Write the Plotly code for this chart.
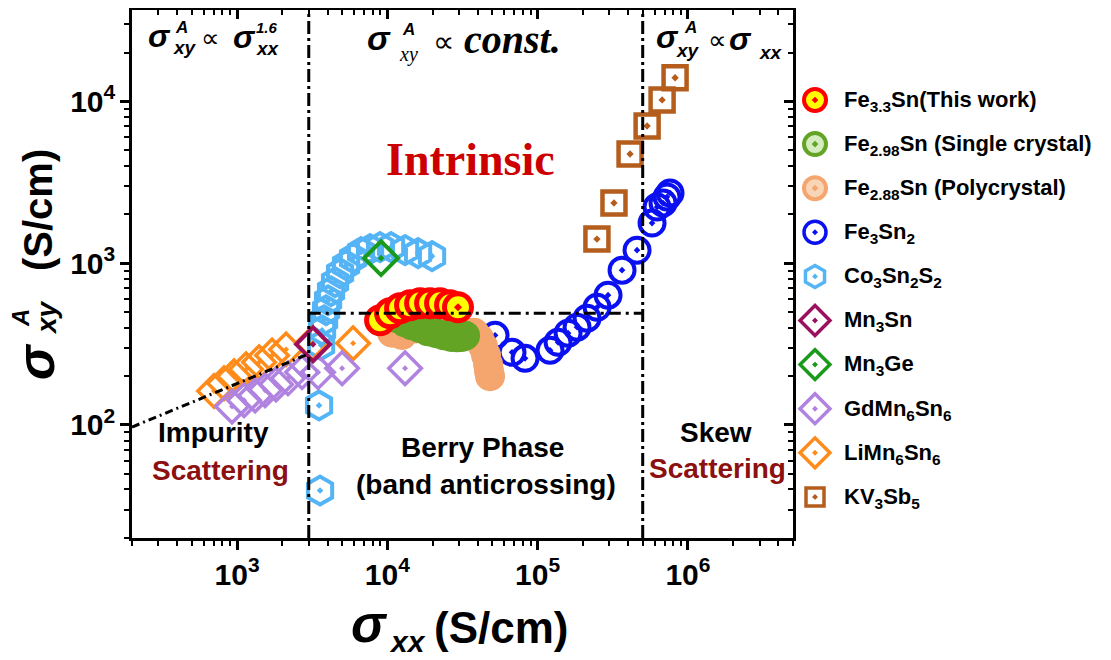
import math
import plotly.graph_objects as go

# ---------------- data (sigma_xx, sigma_xy^A in S/cm) ----------------
fe33sn_sxx = [8940, 10420, 12150, 14160, 16510, 19240, 22420, 26130, 29510]
fe33sn_sxy = [444, 490, 526, 550, 565, 565, 565, 550, 534]

fe298sn_sxx = [11780, 13120, 14600, 16510, 18660, 21090, 23840, 26530, 29090, 31400, 32890]
fe298sn_sxy = [456, 431, 413, 396, 379, 369, 358, 350, 348, 350, 356]

fe288sn_sxx = [10750, 12530, 15520, 19830, 25340, 30460, 34430, 37740, 40740, 43310, 45360, 46780, 47490, 48240]
fe288sn_sxy = [372, 360, 395, 378, 362, 358, 370, 372, 343, 306, 270, 237, 215, 200]

fe3sn2_sxx = [52080, 67530, 82450, 120900, 136700, 159400, 182900, 213200, 248500, 294000,
              364400, 458500, 577000, 622900, 682900, 725800, 760100]
fe3sn2_sxy = [358, 281, 258, 289, 324, 369, 402, 457, 534, 634,
              905, 1203, 1769, 2223, 2355, 2566, 2713]

co3sn2s2_sxx = [3566, 3513, 3623, 3678, 3792, 3910, 4031, 4221, 4487, 4845, 5312, 5913,
                6683, 7672, 8943, 10580, 13120, 16010, 19830]
co3sn2s2_sxy = [39.3, 132, 311, 385, 444, 512, 590, 671, 763, 867, 972, 1074,
                1170, 1221, 1256, 1256, 1204, 1153, 1105]

mn3sn_sxx = [3204]
mn3sn_sxy = [315]

mn3ge_sxx = [9078]
mn3ge_sxy = [1074]

gdmn6sn6_sxx = [926, 1113, 1318, 1536, 1817, 2183, 2705, 3457, 5000, 13120]
gdmn6sn6_sxy = [130, 142, 152, 164, 178, 194, 212, 212, 224, 224]

limn6sn6_sxx = [703, 819, 955, 1148, 1401, 1710, 2119, 3155, 5916]
limn6sn6_sxy = [162, 181, 200, 221, 244, 269, 293, 320, 320]

kv3sb5_sxx = [248000, 322000, 412000, 535000, 673000, 821000]
kv3sb5_sxy = [1409, 2355, 4731, 7047, 10210, 13990]

# guide lines
impurity_line_sxx = [200, 3000]
impurity_line_sxy = [97, 275]
boundary_low = 3000
boundary_high = 5e5
const_level = 490

x_range = [200, 5e6]
y_bottom = 20

legend_labels = [
    "Fe<sub>3.3</sub>Sn(This work)",
    "Fe<sub>2.98</sub>Sn (Single crystal)",
    "Fe<sub>2.88</sub>Sn (Polycrystal)",
    "Fe<sub>3</sub>Sn<sub>2</sub>",
    "Co<sub>3</sub>Sn<sub>2</sub>S<sub>2</sub>",
    "Mn<sub>3</sub>Sn",
    "Mn<sub>3</sub>Ge",
    "GdMn<sub>6</sub>Sn<sub>6</sub>",
    "LiMn<sub>6</sub>Sn<sub>6</sub>",
    "KV<sub>3</sub>Sb<sub>5</sub>",
]

# ---------------- layout geometry (page pixels; the page body adds an 8px offset) ----------------
OFF = 8
W, H = 1111 - OFF, 660 - OFF
PAGE_LEFT, PAGE_RIGHT, PAGE_TOP, PAGE_BOTTOM = 132, 793, 10, 538
ml = PAGE_LEFT - OFF
mt = PAGE_TOP - OFF
mb = H - (PAGE_BOTTOM - OFF)
mr = 0
PW = W - ml - mr
PH = H - mt - mb
xdom = [0, (PAGE_RIGHT - PAGE_LEFT) / PW]
PX_PER_DEC_Y = 161.77
ly = [math.log10(y_bottom), math.log10(y_bottom) + (PAGE_BOTTOM - PAGE_TOP) / PX_PER_DEC_Y]
lx = [math.log10(v) for v in x_range]
y_range = [10 ** ly[0], 10 ** ly[1]]

SANS = "Liberation Sans"
SERIF = "Liberation Serif"

RED = "#ff0000"
YELLOW = "#ffff00"
GREEN = "#64a424"
GREEN_L = "#d5ebc0"
TAN = "#f4a66e"
TAN_L = "#f9d5b8"
BLUE = "#0a10f0"
LBLUE = "#55b4f5"
MAGENTA = "#9b0f5f"
DGREEN = "#1a9a1a"
PURPLE = "#b083e0"
ORANGE = "#ff8c1a"
BROWN = "#b45d1c"
MAROON = "#8c1010"

fig = go.Figure()

def series(x, y, symbol, size, color, lw, fill=None):
    m = dict(symbol=symbol, size=size, line=dict(color=color, width=lw),
             color=fill if fill is not None else color)
    fig.add_trace(go.Scatter(x=x, y=y, mode="markers", marker=m, showlegend=False,
                             hoverinfo="skip", cliponaxis=True))

series(co3sn2s2_sxx, co3sn2s2_sxy, "hexagon-open-dot", 28, LBLUE, 4)
series(fe3sn2_sxx, fe3sn2_sxy, "circle-open-dot", 25, BLUE, 4)
series(kv3sb5_sxx, kv3sb5_sxy, "square-open-dot", 23, BROWN, 4.5)
series(limn6sn6_sxx, limn6sn6_sxy, "diamond-open-dot", 25, ORANGE, 3.5)
series(gdmn6sn6_sxx, gdmn6sn6_sxy, "diamond-open-dot", 25, PURPLE, 3.5)
series(mn3sn_sxx, mn3sn_sxy, "diamond-open-dot", 26, MAGENTA, 4)
series(mn3ge_sxx, mn3ge_sxy, "diamond-open-dot", 26, DGREEN, 4)
series(fe288sn_sxx, fe288sn_sxy, "circle", 27, TAN, 3, fill=TAN)
series(fe298sn_sxx, fe298sn_sxy, "circle", 27, GREEN, 3, fill=GREEN)
series(fe33sn_sxx, fe33sn_sxy, "circle-dot", 27, RED, 5, fill=YELLOW)

def gline(x, y, dash, width=3):
    fig.add_trace(go.Scatter(x=x, y=y, mode="lines", line=dict(color="black", width=width, dash=dash),
                             showlegend=False, hoverinfo="skip"))

gline(impurity_line_sxx, impurity_line_sxy, "8px,4px,2px,4px", 3)
gline([boundary_low, boundary_low], y_range, "13px,4px,3px,4px", 3)
gline([boundary_high, boundary_high], y_range, "13px,4px,3px,4px", 3)
gline([boundary_low, boundary_high], [const_level, const_level], "12px,5px,3px,5px", 3)

# dummy traces so the mirrored (inward-tick) axes render
fig.add_trace(go.Scatter(x=[None], y=[None], xaxis="x3", yaxis="y", showlegend=False))
fig.add_trace(go.Scatter(x=[None], y=[None], xaxis="x", yaxis="y3", showlegend=False))

# ---------------- manual legend ----------------
leg_styles = [
    dict(symbol="circle-dot", size=22, color=YELLOW, line=dict(color=RED, width=4)),
    dict(symbol="circle-dot", size=22, color=GREEN_L, line=dict(color=GREEN, width=4)),
    dict(symbol="circle-dot", size=22, color=TAN_L, line=dict(color=TAN, width=4)),
    dict(symbol="circle-open-dot", size=22, color=BLUE, line=dict(color=BLUE, width=3.5)),
    dict(symbol="hexagon-open-dot", size=22, color=LBLUE, line=dict(color=LBLUE, width=3.5)),
    dict(symbol="diamond-open-dot", size=23, color=MAGENTA, line=dict(color=MAGENTA, width=3.5)),
    dict(symbol="diamond-open-dot", size=23, color=DGREEN, line=dict(color=DGREEN, width=3.5)),
    dict(symbol="diamond-open-dot", size=23, color=PURPLE, line=dict(color=PURPLE, width=3.5)),
    dict(symbol="diamond-open-dot", size=23, color=ORANGE, line=dict(color=ORANGE, width=3.5)),
    dict(symbol="square-open-dot", size=18, color=BROWN, line=dict(color=BROWN, width=3.5)),
]
ROW0, ROWSTEP = 100, 44.1
x2dom = [0.68, 1.0]
x2_range = [ml + x2dom[0] * PW + OFF, W + OFF]   # in page pixels
y2_range = [(PAGE_BOTTOM - ROW0) / ROWSTEP, (PAGE_TOP - ROW0) / ROWSTEP]
for i, st in enumerate(leg_styles):
    fig.add_trace(go.Scatter(x=[815], y=[i], mode="markers", marker=st, xaxis="x2", yaxis="y2",
                             showlegend=False, hoverinfo="skip", cliponaxis=False))

annotations = []
for i, lab in enumerate(legend_labels):
    annotations.append(dict(text="<b>" + lab + "</b>", x=842, y=i + 0.02, xref="x2", yref="y2",
                            xanchor="left", yanchor="middle", showarrow=False,
                            font=dict(family=SANS, size=22, color="black")))

def add_text(text, xp, yp, size, color="black", family=SANS, angle=0, xanchor="center", yanchor="middle"):
    annotations.append(dict(text=text, x=(xp - PAGE_LEFT) / PW, y=(PAGE_BOTTOM - yp) / PH,
                            xref="paper", yref="paper", showarrow=False, borderpad=0,
                            font=dict(family=family, size=size, color=color),
                            textangle=angle, xanchor=xanchor, yanchor=yanchor))

# region headers
add_text("<b><i>σ</i></b>", 159, 36, 32)
add_text("<b><i>A</i></b>", 181, 27, 17)
add_text("<b><i>xy</i></b>", 185, 47, 19)
add_text("∝", 210, 38, 26)
add_text("<b><i>σ</i></b>", 244, 37, 32)
add_text("<b><i>1.6</i></b>", 267, 27, 15)
add_text("<b><i>xx</i></b>", 268, 48, 19)

add_text("<b><i>σ</i></b>", 379, 38, 34)
add_text("<b><i>A</i></b>", 408, 29, 17)
add_text("<i>xy</i>", 408, 54, 20, family=SERIF)
add_text("∝", 443, 41, 30, family=SERIF)
add_text("<b><i>const.</i></b>", 463, 40, 40, family=SERIF, xanchor="left")

add_text("<b><i>σ</i></b>", 667, 37, 32)
add_text("<b><i>A</i></b>", 690, 27, 17)
add_text("<b><i>xy</i></b>", 688, 51, 19)
add_text("∝", 717, 40, 26)
add_text("<b><i>σ</i></b>", 740, 39, 32)
add_text("<b><i>xx</i></b>", 771, 52, 19)

add_text("<b>Intrinsic</b>", 470, 160, 46, color="#cc0000", family=SERIF)
add_text("<b>Impurity</b>", 213, 432, 28)
add_text("<b>Scattering</b>", 220, 470, 28, color=MAROON)
add_text("<b>Berry Phase</b>", 482, 447, 28)
add_text("<b>(band anticrossing)</b>", 486, 484, 28)
add_text("<b>Skew</b>", 716, 432, 28)
add_text("<b>Scattering</b>", 717, 468, 28, color=MAROON)

# axis titles
add_text("<b><i>σ</i></b>", 369, 624, 52)
add_text("<b><i>xx</i></b>", 407, 641, 30)
add_text("<b>(S/cm)</b>", 501, 627, 44)

add_text("<b>(S/cm)</b>", 38, 210, 40, angle=-90)
add_text("<b><i>σ</i></b>", 36, 362, 52, angle=-90)
add_text("<b><i>A</i></b>", 21, 318, 24, angle=-90)
add_text("<b><i>xy</i></b>", 47, 318, 28, angle=-90)

axis_common = dict(type="log", showgrid=False, zeroline=False, showline=True, linewidth=3,
                   linecolor="black", tickcolor="black", tickwidth=2.5, ticklen=9, dtick=1,
                   exponentformat="power")
tickfont = dict(family=SANS, size=24, color="black", weight="bold")
minor_out = dict(ticks="outside", ticklen=5, tickwidth=2, dtick="D1", tickcolor="black")
minor_in = dict(ticks="inside", ticklen=5, tickwidth=2, dtick="D1", tickcolor="black")

fig.update_layout(
    width=W, height=H,
    margin=dict(l=ml, r=mr, t=mt, b=mb, autoexpand=False),
    paper_bgcolor="white", plot_bgcolor="white",
    showlegend=False,
    xaxis=dict(**axis_common, domain=xdom, range=lx, ticks="outside", tickfont=tickfont,
               minor=minor_out, anchor="y"),
    yaxis=dict(**axis_common, range=ly, ticks="outside", tickfont=tickfont,
               minor=minor_out, anchor="x"),
    xaxis3=dict(**axis_common, domain=xdom, range=lx, overlaying="x", side="top", anchor="y",
                ticks="inside", showticklabels=False, minor=minor_in),
    yaxis3=dict(**axis_common, range=ly, overlaying="y", side="right", anchor="x",
                ticks="inside", showticklabels=False, minor=minor_in),
    xaxis2=dict(domain=x2dom, range=x2_range, visible=False, anchor="y2"),
    yaxis2=dict(domain=[0, 1], range=y2_range, visible=False, anchor="x2"),
    annotations=annotations,
)

fig.write_html("out.html")
